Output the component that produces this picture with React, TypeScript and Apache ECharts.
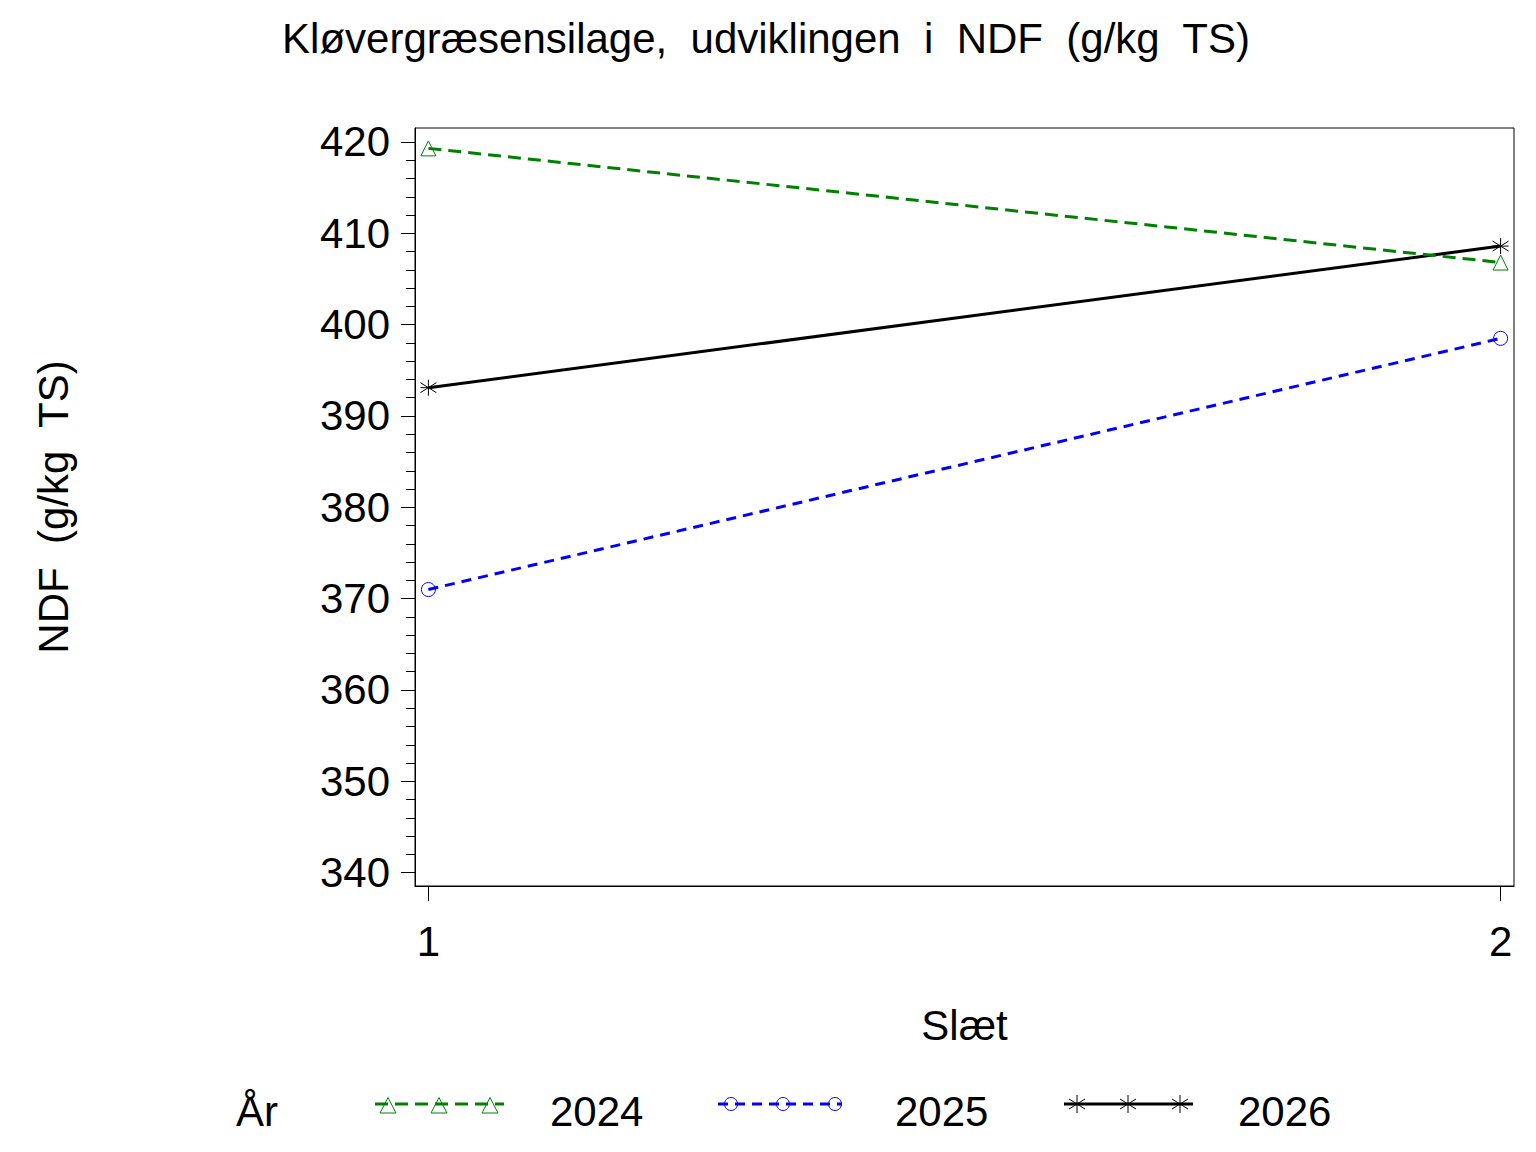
import React, { useEffect, useRef } from "react";
import * as echarts from "echarts";

// ---- data ----
const slaet = [1, 2];
const years = ["2024", "2025", "2026"];
const ndf2024 = [419.3, 406.8];
const ndf2025 = [371.0, 398.5];
const ndf2026 = [393.1, 408.6];
const yTicks = [340, 350, 360, 370, 380, 390, 400, 410, 420];
const yMinorTicks = [
  342, 344, 346, 348, 352, 354, 356, 358, 362, 364, 366, 368, 372, 374, 376, 378,
  382, 384, 386, 388, 392, 394, 396, 398, 402, 404, 406, 408, 412, 414, 416, 418,
];
const xTicks = [1, 2];

const titleText = "Kløvergræsensilage,  udviklingen  i  NDF  (g/kg  TS)";
const yName = "NDF  (g/kg  TS)";
const xName = "Slæt";
const legendTitle = "År";

const FONT = "'Liberation Sans', Arial, Helvetica, sans-serif";
const GREEN = "#008000";
const BLUE = "#0000ff";
const BLACK = "#000000";
const ASTERISK = "path://M8 0 L8 16 M0 3 L16 13 M16 3 L0 13 M0 8 L16 8";

const seriesData = [ndf2024, ndf2025, ndf2026];
const seriesColors = [GREEN, BLUE, BLACK];
const seriesDash: any[] = [[13, 7], [10, 7], "solid"];
const seriesSymbols = ["triangle", "circle", ASTERISK];
const seriesSymbolSizes: any[] = [15, 14, [16, 16]];

// legend layout (pixels)
const legendLineX = [[375, 504], [718, 842], [1064, 1193]];
const legendMarkX = [[388, 439, 490], [731, 783, 835], [1077, 1128, 1180]];
const legendLabelX = [550, 895, 1238];
const legendY = 1104;

function markerGraphic(kind: number, cx: number, cy: number, color: string) {
  if (kind === 0) {
    return {
      type: "polygon",
      shape: { points: [[cx, cy - 7.5], [cx - 8, cy + 8], [cx + 8, cy + 8]] },
      style: { fill: "none", stroke: color, lineWidth: 1 },
      z: 10,
    };
  }
  if (kind === 1) {
    return {
      type: "circle",
      shape: { cx, cy, r: 6.5 },
      style: { fill: "none", stroke: color, lineWidth: 1 },
      z: 10,
    };
  }
  return {
    type: "group",
    z: 10,
    children: [
      { type: "line", shape: { x1: cx, y1: cy - 9, x2: cx, y2: cy + 9 }, style: { stroke: color, lineWidth: 1 } },
      { type: "line", shape: { x1: cx - 8, y1: cy - 5, x2: cx + 8, y2: cy + 5 }, style: { stroke: color, lineWidth: 1 } },
      { type: "line", shape: { x1: cx + 8, y1: cy - 5, x2: cx - 8, y2: cy + 5 }, style: { stroke: color, lineWidth: 1 } },
    ],
  };
}

export default function App() {
  const ref = useRef<HTMLDivElement>(null);

  useEffect(() => {
    if (!ref.current) return;
    const chart = echarts.init(ref.current, null, { renderer: "svg" });

    const legendGraphics: any[] = [];
    legendGraphics.push({
      type: "text",
      x: 236,
      y: 1111,
      style: {
        text: legendTitle,
        fontSize: 42,
        fontFamily: FONT,
        fill: BLACK,
        textAlign: "left",
        textVerticalAlign: "middle",
      },
    });
    years.forEach((yr, i) => {
      const [x1, x2] = legendLineX[i];
      legendGraphics.push({
        type: "line",
        shape: { x1, y1: legendY, x2, y2: legendY },
        style: {
          stroke: seriesColors[i],
          lineWidth: 3,
          lineDash: seriesDash[i] === "solid" ? null : seriesDash[i],
        },
      });
      legendMarkX[i].forEach((mx) => {
        legendGraphics.push(markerGraphic(i, mx, i === 0 ? legendY + 1 : legendY, seriesColors[i]));
      });
      legendGraphics.push({
        type: "text",
        x: legendLabelX[i],
        y: 1111,
        style: {
          text: yr,
          fontSize: 42,
          fontFamily: FONT,
          fill: BLACK,
          textAlign: "left",
          textVerticalAlign: "middle",
        },
      });
    });

    const option: any = {
      animation: false,
      backgroundColor: "#ffffff",
      textStyle: { fontFamily: FONT },
      grid: {
        left: 415,
        top: 128,
        right: 22,
        bottom: 266,
        show: true,
        borderColor: BLACK,
        borderWidth: 1,
        backgroundColor: "transparent",
        containLabel: false,
      },
      xAxis: {
        type: "value",
        min: 0.9875,
        max: 2.0125,
        name: xName,
        nameLocation: "middle",
        nameGap: 118,
        nameTextStyle: { fontSize: 42, color: BLACK, fontFamily: FONT },
        axisLine: { show: true, lineStyle: { color: BLACK, width: 1 } },
        axisTick: { show: true, customValues: xTicks, length: 15, lineStyle: { color: BLACK, width: 1 } },
        axisLabel: {
          show: true,
          customValues: xTicks,
          fontSize: 42,
          color: BLACK,
          fontFamily: FONT,
          margin: 34,
          formatter: (v: number) => String(v),
        },
        splitLine: { show: false },
      },
      yAxis: [
        {
          type: "value",
          min: 338.54,
          max: 421.53,
          name: yName,
          nameLocation: "middle",
          nameGap: 341,
          nameRotate: 90,
          nameTextStyle: { fontSize: 42, color: BLACK, fontFamily: FONT },
          axisLine: { show: true, lineStyle: { color: BLACK, width: 1 } },
          axisTick: { show: true, customValues: yTicks, length: 14, lineStyle: { color: BLACK, width: 1 } },
          axisLabel: {
            show: true,
            customValues: yTicks,
            fontSize: 42,
            color: BLACK,
            fontFamily: FONT,
            margin: 25,
          },
          splitLine: { show: false },
        },
        {
          type: "value",
          position: "left",
          min: 338.54,
          max: 421.53,
          axisLine: { show: false },
          axisTick: { show: true, customValues: yMinorTicks, length: 9, lineStyle: { color: BLACK, width: 1 } },
          axisLabel: { show: false },
          splitLine: { show: false },
        },
      ],
      series: years.map((yr, i) => ({
        name: yr,
        type: "line",
        yAxisIndex: 0,
        data: slaet.map((x, j) => [x, seriesData[i][j]]),
        symbol: seriesSymbols[i],
        symbolSize: seriesSymbolSizes[i],
        showSymbol: true,
        lineStyle: { color: seriesColors[i], width: 3, type: seriesDash[i] },
        itemStyle: { color: "rgba(0,0,0,0)", borderColor: seriesColors[i], borderWidth: 1 },
        emphasis: { disabled: true },
        z: 3 - i,
      })),
      graphic: [
        {
          type: "text",
          x: 766,
          y: 38,
          style: {
            text: titleText,
            x: 0,
            y: 0,
            fontSize: 42,
            fontFamily: FONT,
            fill: BLACK,
            textAlign: "center",
            textVerticalAlign: "middle",
          },
        },
        ...legendGraphics,
      ],
    };

    chart.setOption(option);
    return () => chart.dispose();
  }, []);

  return (
    <div
      ref={ref}
      style={{ position: "fixed", left: 0, top: 0, width: 1536, height: 1152, background: "#fff" }}
    />
  );
}
